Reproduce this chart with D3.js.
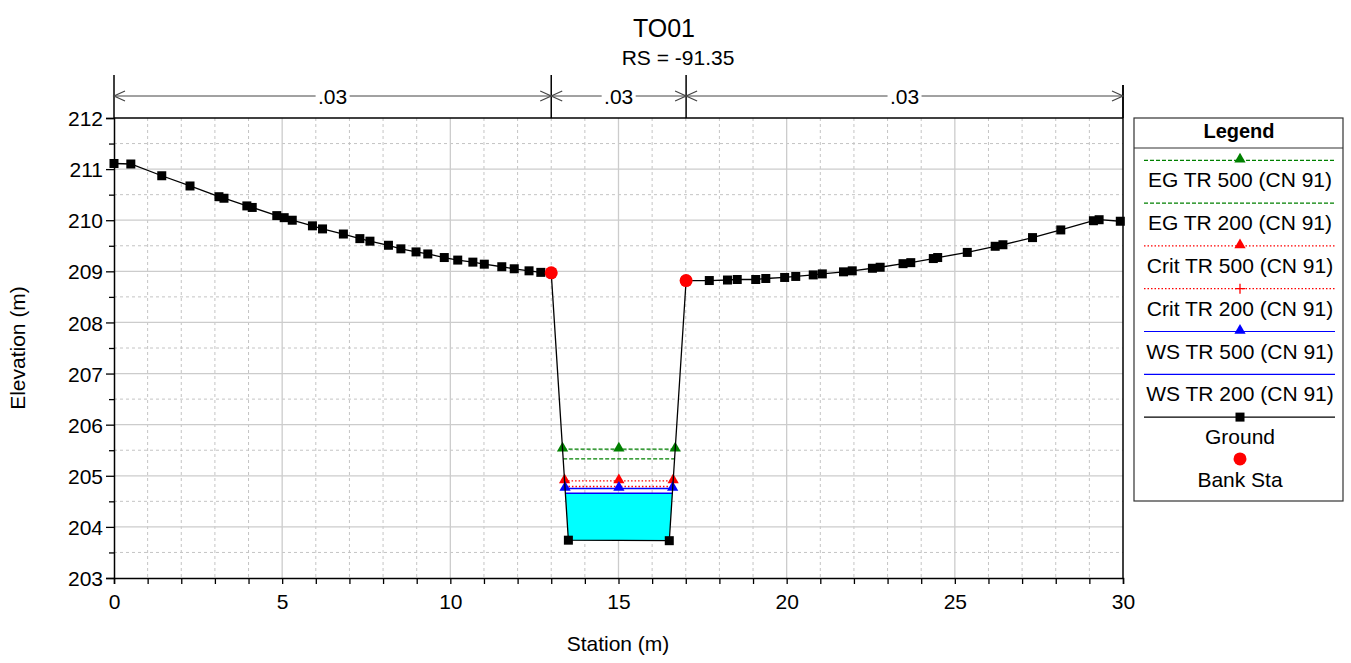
<!DOCTYPE html>
<html>
<head>
<meta charset="utf-8">
<script src="https://cdn.jsdelivr.net/npm/d3@7"></script>
<style>
  html, body { margin: 0; padding: 0; background: #fff; }
  svg { display: block; font-family: Arial, "Liberation Sans", sans-serif; }
</style>
</head>
<body>
<svg id="chart" width="1351" height="663"></svg>
<script>
// ---------------- DATA ----------------
const chartTitle = "TO01";
const chartSubtitle = "RS = -91.35";
const xAxisTitle = "Station (m)";
const yAxisTitle = "Elevation (m)";

const groundStation = [0, 0.5, 1.42, 2.26, 3.12, 3.27, 3.95, 4.11, 4.84, 5.06, 5.30, 5.90, 6.20, 6.82, 7.31, 7.61, 8.16, 8.53, 8.98, 9.33, 9.82, 10.22, 10.67, 11.01, 11.53, 11.90, 12.34, 12.69, 13.0,
  13.51, 16.51,
  17.01, 17.70, 18.24, 18.53, 19.08, 19.38, 19.94, 20.27, 20.79, 21.06, 21.69, 21.95, 22.55, 22.78, 23.46, 23.69, 24.36, 24.49, 25.37, 26.20, 26.43, 27.31, 28.15, 29.12, 29.29, 29.92];
const groundElev = [211.11, 211.10, 210.87, 210.67, 210.46, 210.43, 210.28, 210.25, 210.09, 210.05, 210.00, 209.89, 209.83, 209.73, 209.64, 209.59, 209.51, 209.44, 209.38, 209.34, 209.27, 209.22, 209.18, 209.14, 209.09, 209.05, 209.01, 208.98, 208.97,
  203.74, 203.73,
  208.82, 208.82, 208.83, 208.84, 208.84, 208.86, 208.88, 208.90, 208.93, 208.95, 208.99, 209.01, 209.06, 209.08, 209.15, 209.17, 209.25, 209.27, 209.37, 209.49, 209.52, 209.66, 209.81, 209.99, 210.01, 209.98];

const bankStations = [13.0, 17.01];

const manningBreaks = [0, 13.0, 17.01, 30];
const manningLabels = [".03", ".03", ".03"];

// water profiles (elevations in m)
const profileNames = ["EG TR 500 (CN 91)", "EG TR 200 (CN 91)", "Crit TR 500 (CN 91)", "Crit TR 200 (CN 91)", "WS TR 500 (CN 91)", "WS TR 200 (CN 91)"];
const profileElev  = [205.52, 205.33, 204.90, 204.79, 204.75, 204.66];
const profileColor = ["#008000", "#008000", "#ff0000", "#ff0000", "#0000ff", "#0000ff"];
const profileDash  = ["4,2", "4,2", "1.5,2", "1.5,2", null, null];
const profileMarker = ["triangle", null, "triangle", "plus", "triangle", null];
const profileMarkerInPlot = [true, false, true, false, true, false];

const xTicks = [0, 5, 10, 15, 20, 25, 30];
const yTicks = [203, 204, 205, 206, 207, 208, 209, 210, 211, 212];

// ---------------- LAYOUT ----------------
const svg = d3.select("#chart");
const plot = { left: 114, right: 1123, top: 118, bottom: 578 };
const x = d3.scaleLinear().domain([0, 30]).range([plot.left, plot.right]);
const y = d3.scaleLinear().domain([203, 212]).range([plot.bottom, plot.top]);
const FONT = 21;

// grid
const grid = svg.append("g");
const minorX = d3.range(0, 31, 1).filter(v => v % 5 !== 0);
const minorY = d3.range(203.5, 212, 1);
grid.selectAll(".mx").data(minorX).join("line")
  .attr("x1", d => x(d)).attr("x2", d => x(d)).attr("y1", plot.top).attr("y2", plot.bottom)
  .attr("stroke", "#c4c4c4").attr("stroke-width", 1).attr("stroke-dasharray", "3,3");
grid.selectAll(".my").data(minorY).join("line")
  .attr("y1", d => y(d)).attr("y2", d => y(d)).attr("x1", plot.left).attr("x2", plot.right)
  .attr("stroke", "#c4c4c4").attr("stroke-width", 1).attr("stroke-dasharray", "3,3");
grid.selectAll(".Mx").data(xTicks.filter(v => v > 0 && v < 30)).join("line")
  .attr("x1", d => x(d)).attr("x2", d => x(d)).attr("y1", plot.top).attr("y2", plot.bottom)
  .attr("stroke", "#cccccc").attr("stroke-width", 1.3);
grid.selectAll(".My").data(yTicks.filter(v => v > 203 && v < 212)).join("line")
  .attr("y1", d => y(d)).attr("y2", d => y(d)).attr("x1", plot.left).attr("x2", plot.right)
  .attr("stroke", "#cccccc").attr("stroke-width", 1.3);

// helpers: intersection of a water level with ground walls of main channel
function interp(x0, y0, x1, y1, e) { return x0 + (e - y0) / (y1 - y0) * (x1 - x0); }
const iBankL = groundStation.indexOf(bankStations[0]);
const iBankR = groundStation.indexOf(bankStations[1]);
function channelExtent(e) {
  let xl = null, xr = null;
  for (let i = iBankL; i < iBankR; i++) {
    const a = groundElev[i], b = groundElev[i + 1];
    if (xl === null && a >= e && b < e) xl = interp(groundStation[i], a, groundStation[i + 1], b, e);
    if (a < e && b >= e) xr = interp(groundStation[i], a, groundStation[i + 1], b, e);
  }
  return [xl, xr];
}

// water fill (WS TR 200)
const wsFill = profileElev[5];
const [fl, fr] = channelExtent(wsFill);
const fillPts = [[fl, wsFill]];
for (let i = iBankL; i <= iBankR; i++) if (groundElev[i] < wsFill) fillPts.push([groundStation[i], groundElev[i]]);
fillPts.push([fr, wsFill]);
svg.append("path")
  .attr("d", d3.line().x(d => x(d[0])).y(d => y(d[1]))(fillPts) + "Z")
  .attr("fill", "#00ffff").attr("stroke", "none");

// water lines
const tri = d3.symbol().type(d3.symbolTriangle).size(55);
const wl = svg.append("g");
profileElev.forEach((e, k) => {
  const [xl, xr] = channelExtent(e);
  wl.append("line")
    .attr("x1", x(xl)).attr("x2", x(xr)).attr("y1", y(e)).attr("y2", y(e))
    .attr("stroke", profileColor[k]).attr("stroke-width", profileDash[k] ? 1.3 : 1.5)
    .attr("stroke-dasharray", profileDash[k]);
});

// ground
svg.append("path")
  .datum(groundStation.map((s, i) => [s, groundElev[i]]))
  .attr("d", d3.line().x(d => x(d[0])).y(d => y(d[1])))
  .attr("fill", "none").attr("stroke", "#000").attr("stroke-width", 1.3);
svg.append("g").selectAll("rect").data(groundStation.map((s, i) => [s, groundElev[i]])).join("rect")
  .attr("x", d => x(d[0]) - 4.5).attr("y", d => y(d[1]) - 4.5).attr("width", 9).attr("height", 9)
  .attr("fill", "#000");

// water markers
profileElev.forEach((e, k) => {
  if (!profileMarkerInPlot[k]) return;
  const [xl, xr] = channelExtent(e);
  [xl, (xl + xr) / 2, xr].forEach(s => {
    wl.append("path").attr("d", tri).attr("transform", `translate(${x(s)},${y(e) - 1})`)
      .attr("fill", profileColor[k]);
  });
});

// bank stations
svg.append("g").selectAll("circle").data(bankStations).join("circle")
  .attr("cx", d => x(d)).attr("cy", d => y(groundElev[groundStation.indexOf(d)]))
  .attr("r", 6.5).attr("fill", "#ff0000");

// frame
svg.append("line").attr("x1", plot.left).attr("x2", plot.right).attr("y1", plot.top).attr("y2", plot.top).attr("stroke", "#000").attr("stroke-width", 1.3);
svg.append("line").attr("x1", plot.right).attr("x2", plot.right).attr("y1", 85).attr("y2", plot.bottom).attr("stroke", "#000").attr("stroke-width", 1.5);

// axes
const xAxis = d3.axisBottom(x).tickValues(d3.range(0, 31, 1)).tickSize(6).tickFormat(d => xTicks.includes(d) ? d : "");
const gx = svg.append("g").attr("transform", `translate(0,${plot.bottom})`).call(xAxis);
gx.select(".domain").attr("stroke", "#000").attr("stroke-width", 1.5);
gx.selectAll(".tick line").attr("stroke", "#000").attr("stroke-width", 1.3);
gx.selectAll(".tick text").attr("font-size", FONT).attr("fill", "#000").attr("dy", "0").attr("y", 31).attr("font-family", "Arial, 'Liberation Sans', sans-serif");

const yAxisMajor = d3.axisLeft(y).tickValues(yTicks).tickSize(8).tickFormat(d3.format("d"));
const gy = svg.append("g").attr("transform", `translate(${plot.left},0)`).call(yAxisMajor);
gy.select(".domain").attr("stroke", "#000").attr("stroke-width", 1.5);
gy.selectAll(".tick line").attr("stroke", "#000").attr("stroke-width", 1.3);
gy.selectAll(".tick text").attr("font-size", FONT).attr("fill", "#000").attr("x", -11).attr("dy", "0.36em").attr("font-family", "Arial, 'Liberation Sans', sans-serif");
const gyMinor = svg.append("g").attr("transform", `translate(${plot.left},0)`)
  .call(d3.axisLeft(y).tickValues(minorY).tickSize(5).tickFormat(""));
gyMinor.select(".domain").remove();
gyMinor.selectAll(".tick line").attr("stroke", "#000").attr("stroke-width", 1.3);

// axis titles
svg.append("text").attr("x", 618).attr("y", 651).attr("text-anchor", "middle").attr("font-size", FONT).text(xAxisTitle);
svg.append("text").attr("transform", "translate(25,348) rotate(-90)").attr("text-anchor", "middle").attr("font-size", FONT).text(yAxisTitle);

// titles
svg.append("text").attr("x", 664).attr("y", 37).attr("text-anchor", "middle").attr("font-size", 25).text(chartTitle);
svg.append("text").attr("x", 678).attr("y", 65).attr("text-anchor", "middle").attr("font-size", FONT).text(chartSubtitle);

// Manning's n annotation
const ay = 96;
const ann = svg.append("g");
manningBreaks.forEach((b, i) => {
  ann.append("line").attr("x1", x(b)).attr("x2", x(b)).attr("y1", i === manningBreaks.length - 1 ? 85 : 75).attr("y2", plot.top)
    .attr("stroke", "#000").attr("stroke-width", 1.5);
});
manningLabels.forEach((lab, i) => {
  const a = x(manningBreaks[i]), b = x(manningBreaks[i + 1]);
  ann.append("line").attr("x1", a).attr("x2", b).attr("y1", ay).attr("y2", ay).attr("stroke", "#444").attr("stroke-width", 1);
  ann.append("path").attr("d", `M${a + 11},${ay - 5}L${a},${ay}L${a + 11},${ay + 5}`).attr("fill", "none").attr("stroke", "#444").attr("stroke-width", 1.2);
  ann.append("path").attr("d", `M${b - 11},${ay - 5}L${b},${ay}L${b - 11},${ay + 5}`).attr("fill", "none").attr("stroke", "#444").attr("stroke-width", 1.2);
  const cx = (a + b) / 2;
  ann.append("rect").attr("x", cx - 17).attr("y", ay - 8).attr("width", 34).attr("height", 16).attr("fill", "#fff");
  ann.append("text").attr("x", cx).attr("y", ay + 7.5).attr("text-anchor", "middle").attr("font-size", FONT).text(lab);
});

// Legend
const lg = svg.append("g");
const L = { left: 1134, right: 1343, top: 118, bottom: 501 };
lg.append("rect").attr("x", L.left).attr("y", L.top).attr("width", L.right - L.left).attr("height", L.bottom - L.top)
  .attr("fill", "#fff").attr("stroke", "#333").attr("stroke-width", 1.2);
lg.append("line").attr("x1", L.left).attr("x2", L.right).attr("y1", 148).attr("y2", 148).attr("stroke", "#333").attr("stroke-width", 1.2);
lg.append("text").attr("x", 1239).attr("y", 138).attr("text-anchor", "middle").attr("font-size", 20).attr("font-weight", "bold").text("Legend");

const legendNames = profileNames.concat(["Ground", "Bank Sta"]);
const lx1 = 1144, lx2 = 1335, lcx = 1240;
const step = 42.8;
legendNames.forEach((name, k) => {
  const ly = 160.3 + k * step;
  const ty = ly + 20;
  if (k < 6) {
    lg.append("line").attr("x1", lx1).attr("x2", lx2).attr("y1", ly).attr("y2", ly)
      .attr("stroke", profileColor[k]).attr("stroke-width", 1.2).attr("stroke-dasharray", profileDash[k]);
    if (profileMarker[k] === "triangle") {
      lg.append("path").attr("d", tri).attr("transform", `translate(${lcx},${ly - 1})`).attr("fill", profileColor[k]);
    } else if (profileMarker[k] === "plus") {
      lg.append("path").attr("d", `M${lcx - 5},${ly}H${lcx + 5}M${lcx},${ly - 5}V${ly + 5}`).attr("stroke", profileColor[k]).attr("stroke-width", 1.3);
    }
  } else if (k === 6) {
    lg.append("line").attr("x1", lx1).attr("x2", lx2).attr("y1", ly).attr("y2", ly).attr("stroke", "#000").attr("stroke-width", 1.3);
    lg.append("rect").attr("x", lcx - 4.5).attr("y", ly - 4.5).attr("width", 9).attr("height", 9).attr("fill", "#000");
  } else {
    lg.append("circle").attr("cx", lcx).attr("cy", ly - 1).attr("r", 6.5).attr("fill", "#ff0000");
  }
  lg.append("text").attr("x", lcx).attr("y", ty + 7).attr("text-anchor", "middle").attr("font-size", FONT).text(name);
});
</script>
</body>
</html>
